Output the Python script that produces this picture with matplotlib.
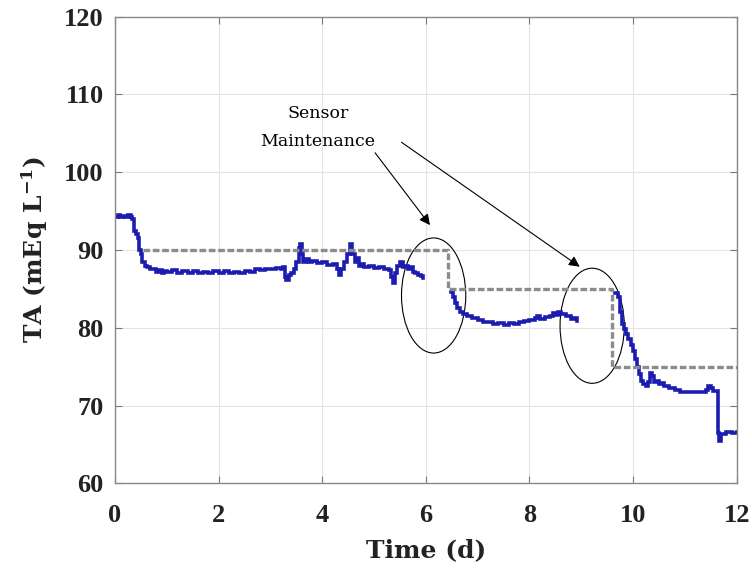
import matplotlib
matplotlib.use("Agg")
import matplotlib.pyplot as plt
from matplotlib.patches import Ellipse
import numpy as np

# ---- data ----
t1 = [0.00, 0.05, 0.10, 0.15, 0.20, 0.25, 0.30, 0.33, 0.36, 0.40, 0.44, 0.47, 0.50, 0.53,
      0.57, 0.62, 0.68, 0.75, 0.80, 0.85, 0.90, 0.95, 1.00, 1.10, 1.20, 1.30, 1.40, 1.50,
      1.60, 1.70, 1.80, 1.90, 2.00, 2.10, 2.20, 2.30, 2.40, 2.50, 2.60, 2.70, 2.80, 2.90,
      3.00, 3.10, 3.20, 3.25, 3.28, 3.31, 3.35, 3.40, 3.45, 3.50, 3.55, 3.57, 3.60, 3.63,
      3.68, 3.75, 3.80, 3.90, 4.00, 4.10, 4.20, 4.28, 4.32, 4.36, 4.42, 4.48, 4.53, 4.58,
      4.63, 4.66, 4.70, 4.75, 4.80, 4.90, 5.00, 5.10, 5.20, 5.28, 5.33, 5.37, 5.40, 5.45,
      5.50, 5.55, 5.60, 5.65, 5.70, 5.75, 5.80, 5.85, 5.90, 5.95]
ta1 = [94.2, 94.5, 94.3, 94.4, 94.2, 94.5, 94.3, 94.0, 92.5, 92.0, 91.5, 90.0, 89.5, 88.5,
       88.0, 87.8, 87.5, 87.6, 87.2, 87.4, 87.0, 87.3, 87.2, 87.4, 87.1, 87.3, 87.0, 87.3,
       87.1, 87.2, 87.0, 87.3, 87.1, 87.3, 87.0, 87.2, 87.1, 87.3, 87.2, 87.5, 87.4, 87.6,
       87.5, 87.7, 87.6, 87.8, 86.5, 86.1, 86.8, 87.0, 87.5, 88.5, 90.2, 90.8, 89.5, 88.5,
       88.8, 88.4, 88.6, 88.3, 88.4, 88.1, 88.2, 87.5, 86.8, 87.5, 88.5, 89.5, 90.8, 89.5,
       88.5, 89.0, 88.0, 88.2, 87.8, 87.9, 87.7, 87.8, 87.6, 87.4, 86.5, 85.7, 87.0, 88.0,
       88.5, 87.8, 88.0, 87.6, 87.8, 87.2, 87.0, 86.8, 86.6, 86.4]

t2 = [6.48, 6.52, 6.56, 6.60, 6.65, 6.72, 6.80, 6.90, 7.00, 7.10, 7.20, 7.30, 7.40, 7.50,
      7.60, 7.70, 7.80, 7.90, 8.00, 8.10, 8.15, 8.20, 8.30, 8.40, 8.45, 8.50, 8.55, 8.60,
      8.70, 8.80, 8.85, 8.92]
ta2 = [84.6, 84.0, 83.2, 82.6, 82.0, 81.8, 81.5, 81.3, 81.0, 80.8, 80.7, 80.5, 80.6, 80.4,
       80.6, 80.5, 80.7, 80.9, 81.0, 81.2, 81.5, 81.1, 81.4, 81.5, 81.9, 81.6, 82.0, 81.8,
       81.5, 81.1, 81.3, 80.9]

t3 = [9.66, 9.70, 9.74, 9.78, 9.82, 9.86, 9.90, 9.95, 10.00, 10.04, 10.08, 10.12, 10.16,
      10.20, 10.24, 10.28, 10.32, 10.36, 10.40, 10.45, 10.50, 10.55, 10.60, 10.70, 10.80,
      10.90, 11.00, 11.10, 11.20, 11.30, 11.40, 11.45, 11.50, 11.55, 11.62, 11.64, 11.66,
      11.70, 11.80, 11.90, 12.00]
ta3 = [84.5, 84.0, 82.0, 80.5, 79.8, 79.2, 78.5, 77.8, 77.0, 76.0, 75.0, 74.0, 73.2,
       72.8, 72.5, 73.0, 74.2, 73.8, 73.0, 73.2, 72.8, 72.9, 72.5, 72.2, 72.0,
       71.8, 71.8, 71.7, 71.8, 71.8, 72.0, 72.5, 72.2, 71.9, 71.9, 66.5, 65.4,
       66.3, 66.6, 66.5, 66.6]

ref_t = [0.55, 6.42, 6.42, 9.60, 9.60, 12.0]
ref_ta = [90, 90, 85, 85, 75, 75]

xticks = [0, 2, 4, 6, 8, 10, 12]
yticks = [60, 70, 80, 90, 100, 110, 120]

# ---- styling ----
plt.rcParams['mathtext.fontset'] = 'custom'
plt.rcParams['mathtext.rm'] = 'DejaVu Serif:bold'
plt.rcParams['mathtext.default'] = 'rm'

fig = plt.figure(figsize=(7.52, 5.73), dpi=100)
ax = fig.add_axes([0.1529, 0.1565, 0.9797 - 0.1529, 0.9709 - 0.1565])

ax.grid(True, color='#e4e4e4', lw=0.8)
ax.set_axisbelow(True)

blue = '#1c1cb0'
for tt, vv in [(t1, ta1), (t2, ta2), (t3, ta3)]:
    ax.plot(tt, vv, color=blue, lw=2.6, drawstyle='steps-post', solid_joinstyle='miter')

ax.plot(ref_t, ref_ta, color='#8c8c8c', lw=2.4, dashes=(2.0, 0.8))

for (cx, cy) in [(6.15, 84.15), (9.21, 80.26)]:
    ax.add_patch(Ellipse((cx, cy), 1.24, 14.8, fill=False, ec='black', lw=0.8))

ax.text(3.93, 107.6, 'Sensor', ha='center', va='center', family='DejaVu Serif', fontsize=12.5)
ax.text(3.91, 104.0, 'Maintenance', ha='center', va='center', family='DejaVu Serif', fontsize=12.5)
ap = dict(arrowstyle='-|>', color='black', lw=0.8, mutation_scale=16, shrinkA=0, shrinkB=0)
ax.annotate('', xy=(6.08, 93.2), xytext=(5.02, 102.5), arrowprops=ap)
ax.annotate('', xy=(8.97, 87.85), xytext=(5.53, 103.85), arrowprops=ap)

ax.set_xlim(0, 12)
ax.set_ylim(60, 120)
ax.set_xticks(xticks)
ax.set_yticks(yticks)
for lab in ax.get_xticklabels() + ax.get_yticklabels():
    lab.set_family('Liberation Serif')
    lab.set_fontweight('bold')
    lab.set_fontsize(19)
    lab.set_color('#222222')
ax.tick_params(axis='both', direction='in', length=5, width=0.8, color='#777777',
               top=True, right=True)
ax.tick_params(axis='x', pad=15)
ax.tick_params(axis='y', pad=8)
for s in ax.spines.values():
    s.set_color('#888888')
    s.set_linewidth(1.0)

ax.set_xlabel('Time (d)', family='DejaVu Serif', fontweight='bold', fontsize=18,
              color='#222222', labelpad=8)
ax.set_ylabel('TA (mEq L$^{-1}$)', family='DejaVu Serif', fontweight='bold', fontsize=18,
              color='#222222', labelpad=10)

fig.savefig('out.png', dpi=100)
